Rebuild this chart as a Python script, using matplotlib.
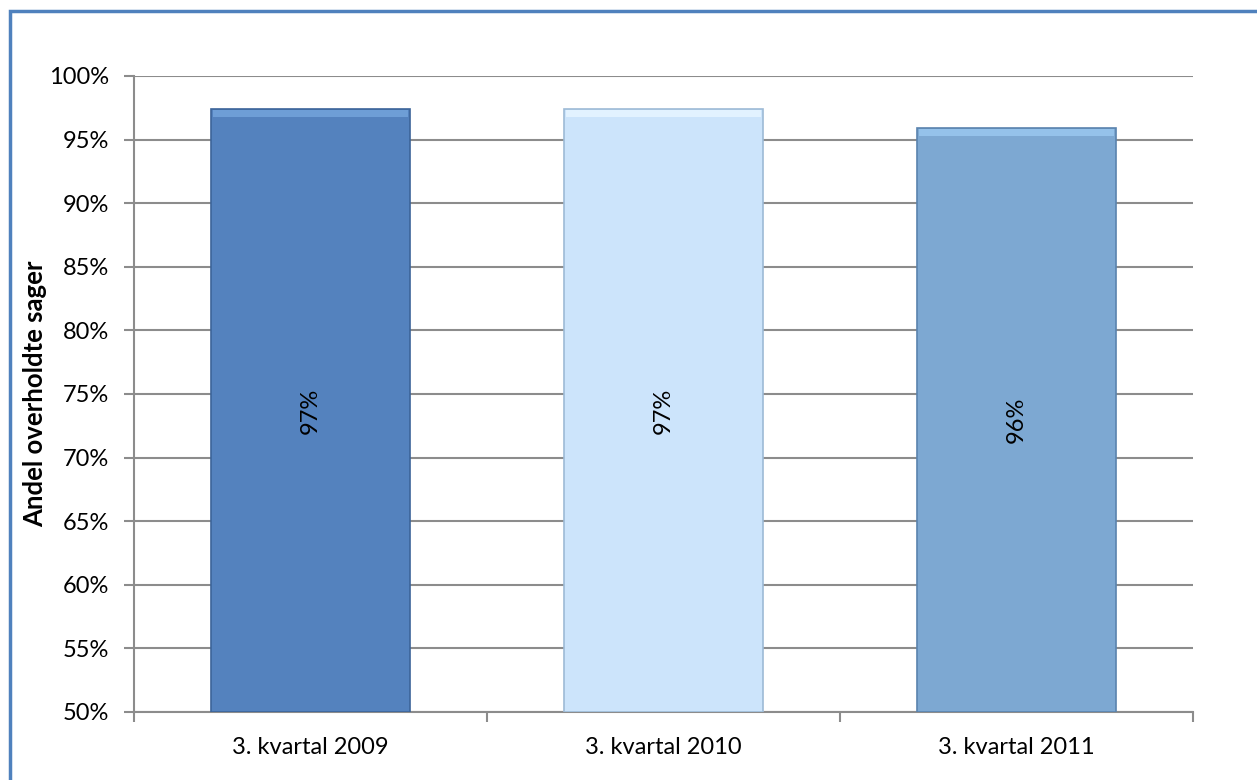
import matplotlib.pyplot as plt
from matplotlib.patches import Rectangle

categories = ["3. kvartal 2009", "3. kvartal 2010", "3. kvartal 2011"]
values = [97.4, 97.4, 95.9]
labels = ["97%", "97%", "96%"]
colors = ["#5482BE", "#CCE4FB", "#7DA8D2"]
highlights = ["#6E9ED6", "#E2F2FF", "#95C2EA"]
edges = ["#3C6499", "#9DBAD6", "#5A83AE"]

plt.rcParams['font.family'] = ['Lato', 'DejaVu Sans']

fig = plt.figure(figsize=(12.57, 7.80), dpi=100)
ax = fig.add_axes([134 / 1257, 1 - 712 / 780, (1193 - 134) / 1257, (712 - 76) / 780])

x = list(range(len(categories)))
bars = ax.bar(x, [v - 50 for v in values], bottom=50, width=0.565,
              color=colors, edgecolor=edges, linewidth=1.2, zorder=3)
# light bevel along the top of each bar
ax.bar(x, [0.55] * len(values), bottom=[v - 0.6 for v in values], width=0.555,
       color=highlights, linewidth=0, zorder=3.5)

for b, lab in zip(bars, labels):
    cx = b.get_x() + b.get_width() / 2
    cy = b.get_y() + b.get_height() / 2
    ax.text(cx, cy, lab, rotation=90, ha='center', va='center', fontsize=17, color='black', zorder=4)

ax.set_xlim(-0.5, 2.5)
ax.set_ylim(50, 100)
ax.set_yticks(range(50, 101, 5))
ax.set_yticklabels([f"{t}%" for t in range(50, 101, 5)], fontsize=17)
ax.yaxis.grid(True, color='#8C8C8C', linewidth=1.5, zorder=0)

ax.set_xticks(x)
ax.set_xticklabels(categories, fontsize=17)
ax.set_xticks([-0.5, 0.5, 1.5, 2.5], minor=True)
ax.tick_params(axis='x', which='major', length=0, pad=18)
ax.tick_params(axis='x', which='minor', length=7, width=1.5, color='#8C8C8C')
ax.tick_params(axis='y', length=7, width=1.5, color='#8C8C8C', pad=11)

for s in ['top', 'right']:
    ax.spines[s].set_visible(False)
for s in ['left', 'bottom']:
    ax.spines[s].set_color('#8C8C8C')
    ax.spines[s].set_linewidth(1.5)

ax.set_ylabel("Andel overholdte sager", fontsize=18.5, fontweight='bold', labelpad=1)

# outer frame of the chart area
fig.patches.append(Rectangle((10 / 1257, -0.05), 1.1, 1 - 11 / 780 + 0.05,
                             transform=fig.transFigure, fill=False,
                             edgecolor='#4F81BD', linewidth=2.5))

fig.savefig("out.png", dpi=100)
